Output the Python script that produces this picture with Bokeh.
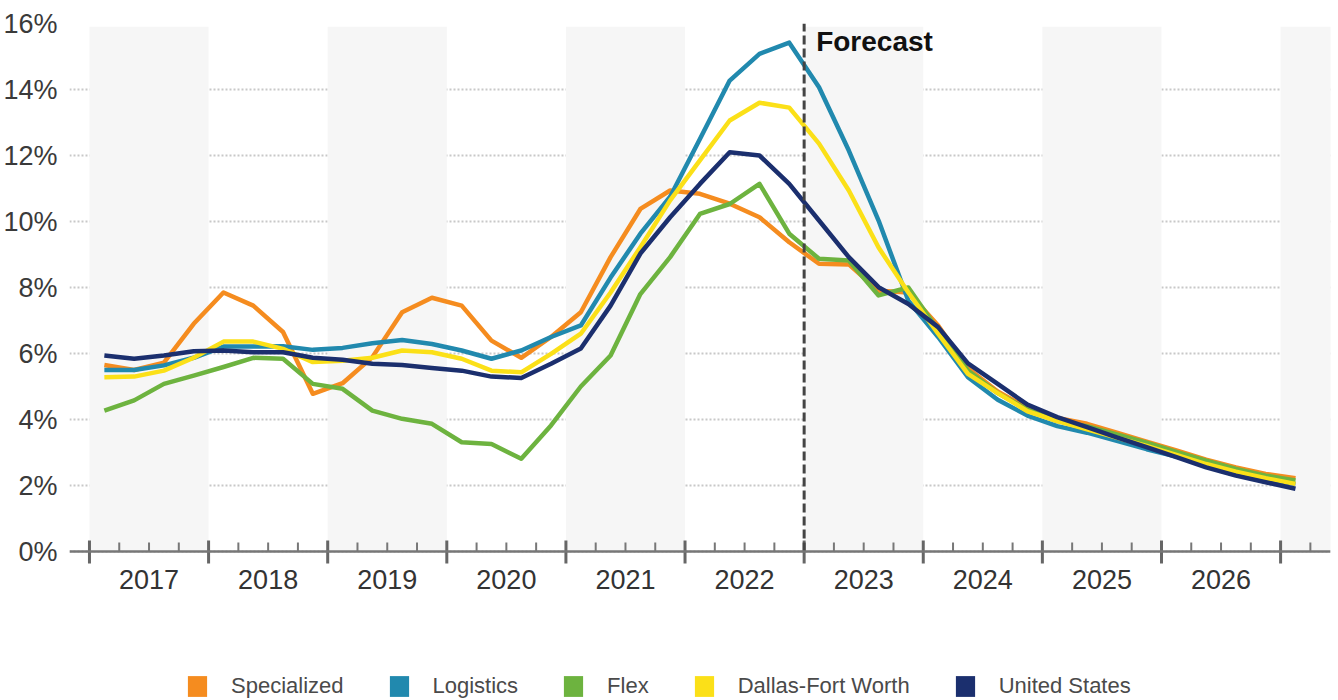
from bokeh.plotting import figure
from bokeh.models import (FixedTicker, Legend, LegendItem, Span,
                          ColumnDataSource, Range1d)
from bokeh.core.properties import value
from bokeh.embed import file_html
from bokeh.resources import INLINE

# ---------------- data ----------------
years = [2017, 2018, 2019, 2020, 2021, 2022, 2023, 2024, 2025, 2026]
year_labels = ["2017", "2018", "2019", "2020", "2021", "2022", "2023", "2024", "2025", "2026"]
# quarterly points: 2017 Q1 ... 2027 Q1 (41 quarters)
quarters = list(range(41))

specialized = [5.65, 5.50, 5.72, 6.90, 7.85, 7.45, 6.65, 4.78, 5.10, 5.89,
               7.25, 7.69, 7.45, 6.39, 5.87, 6.50, 7.25, 8.92, 10.38, 10.94,
               10.84, 10.54, 10.13, 9.37, 8.72, 8.70, 7.90, 7.85, 6.85, 5.55,
               4.85, 4.35, 4.05, 3.87, 3.60, 3.33, 3.06, 2.78, 2.55, 2.35, 2.22]
logistics = [5.50, 5.50, 5.64, 5.87, 6.21, 6.21, 6.22, 6.11, 6.17, 6.31,
             6.41, 6.29, 6.09, 5.84, 6.09, 6.50, 6.85, 8.30, 9.63, 10.75,
             12.50, 14.27, 15.08, 15.42, 14.07, 12.15, 10.03, 7.60, 6.50, 5.28,
             4.60, 4.12, 3.80, 3.60, 3.35, 3.10, 2.88, 2.62, 2.40, 2.20, 2.05]
flex = [4.27, 4.58, 5.08, 5.33, 5.59, 5.87, 5.84, 5.08, 4.93, 4.27,
        4.02, 3.87, 3.31, 3.26, 2.81, 3.82, 5.00, 5.94, 7.80, 8.92,
        10.23, 10.53, 11.14, 9.63, 8.87, 8.82, 7.76, 8.00, 6.70, 5.48,
        4.80, 4.30, 3.95, 3.80, 3.55, 3.30, 3.02, 2.75, 2.50, 2.30, 2.15]
dfw = [5.28, 5.30, 5.48, 5.87, 6.36, 6.36, 6.14, 5.74, 5.78, 5.87,
       6.09, 6.04, 5.84, 5.48, 5.43, 5.99, 6.60, 7.85, 9.22, 10.64,
       11.85, 13.06, 13.60, 13.45, 12.36, 10.94, 9.21, 7.85, 6.60, 5.38,
       4.80, 4.25, 3.95, 3.70, 3.45, 3.20, 2.93, 2.65, 2.42, 2.22, 2.05]
united_states = [5.94, 5.84, 5.94, 6.07, 6.09, 6.04, 6.04, 5.87, 5.81, 5.69,
                 5.65, 5.56, 5.48, 5.30, 5.26, 5.69, 6.15, 7.45, 9.03, 10.13,
                 11.14, 12.10, 12.00, 11.14, 10.03, 8.92, 8.01, 7.50, 6.80, 5.70,
                 5.08, 4.45, 4.07, 3.77, 3.46, 3.16, 2.86, 2.55, 2.30, 2.10, 1.90]

series_names = ["Specialized", "Logistics", "Flex", "Dallas-Fort Worth", "United States"]
series_values = [specialized, logistics, flex, dfw, united_states]
series_colors = ["#F58C1F", "#2189AE", "#6DB33F", "#FBE018", "#1B2F6E"]

forecast_start_quarter = 24   # first quarter of 2023
forecast_label = "Forecast"

y_ticks = [0, 2, 4, 6, 8, 10, 12, 14, 16]
y_tick_labels = ["0%", "2%", "4%", "6%", "8%", "10%", "12%", "14%", "16%"]

# ---------------- derived positions ----------------
x_pos = [q + 0.5 for q in quarters]                    # quarter centres
year_starts = [4 * k for k in range(len(years) + 1)]   # year boundaries
year_centres = [4 * k + 2 for k in range(len(years))]
minor_q = [q for q in range(42) if q % 4 != 0]

FONT = "Liberation Sans"
PX = 1.0 / 33.0   # one screen pixel in y data units (33 px per 1%)

p = figure(width=1338, height=700,
           x_range=Range1d(-0.6706, 41.676), y_range=Range1d(16 - 677 * PX, 16),
           output_backend="svg", toolbar_location=None,
           min_border_left=67, min_border_right=8, min_border_top=23,
           min_border_bottom=0, outline_line_color=None,
           background_fill_color="white", border_fill_color="white")
p.xaxis.visible = False

# alternating shaded year bands (odd years)
band_left = [year_starts[k] for k in range(0, len(years) + 1, 2)]
band_right = [b + 4 for b in band_left]
p.quad(left=band_left, right=band_right, bottom=0, top=15.9,
       fill_color="#F6F6F6", line_color=None)

# grid
p.xgrid.visible = False
p.ygrid.ticker = FixedTicker(ticks=y_ticks)
p.ygrid.grid_line_color = "#C8C8C8"
p.ygrid.grid_line_dash = "2 2"
p.ygrid.grid_line_width = 2

# y axis
p.yaxis.ticker = FixedTicker(ticks=y_ticks, minor_ticks=[])
p.yaxis.major_label_overrides = {t: l for t, l in zip(y_ticks, y_tick_labels)}
p.yaxis.axis_line_color = None
p.yaxis.major_tick_line_color = None
p.yaxis.minor_tick_line_color = None
p.yaxis.major_label_text_font = FONT
p.yaxis.major_label_text_font_size = "27px"
p.yaxis.major_label_text_color = "#3A3A3A"
p.yaxis.major_label_standoff = 6

# time axis: baseline, year ticks, quarter ticks, year labels
p.segment(x0=year_starts, x1=year_starts, y0=-12 * PX, y1=11 * PX,
          line_color="#666666", line_width=3)
p.segment(x0=minor_q, x1=minor_q, y0=0, y1=9 * PX,
          line_color="#777777", line_width=2)
p.add_layout(Span(location=0, dimension="width", line_color="#777777",
                  line_width=2.5))
p.text(x=year_centres, y=[0] * len(year_centres), text=year_labels,
       y_offset=18, text_baseline="top", text_align="center",
       text_font=value(FONT), text_font_size="27px", text_color="#333333")

# series lines (+ hidden square proxies for the legend swatches)
items = []
for name, vals, col in zip(series_names, series_values, series_colors):
    src = ColumnDataSource(dict(x=x_pos, y=vals))
    p.line("x", "y", source=src, line_color=col, line_width=4.5, line_join="round")
    proxy = p.quad(left="x", right="x", top="y", bottom="y", source=src,
                   fill_color=col, line_color=None, visible=False)
    items.append(LegendItem(label=name, renderers=[proxy]))

# forecast divider
p.segment(x0=[forecast_start_quarter], x1=[forecast_start_quarter], y0=[0], y1=[16],
          line_color="#444444", line_width=3, line_dash="9 4")
p.text(x=[forecast_start_quarter], y=[16], text=[forecast_label],
       x_offset=12, y_offset=2, text_baseline="top", text_align="left",
       text_font=value(FONT), text_font_style="bold",
       text_font_size="28px", text_color="#111111")

# legend (square swatches)
legend = Legend(items=items, orientation="horizontal", location=(116, 1),
                glyph_width=24, glyph_height=26, label_height=26,
                label_standoff=22, spacing=43,
                padding=0, margin=0, border_line_color=None,
                background_fill_alpha=0, label_text_font=FONT,
                label_text_font_size="22px", label_text_color="#4A4A4A")
p.add_layout(legend, "center")

open("out.html", "w").write(file_html(p, INLINE))
